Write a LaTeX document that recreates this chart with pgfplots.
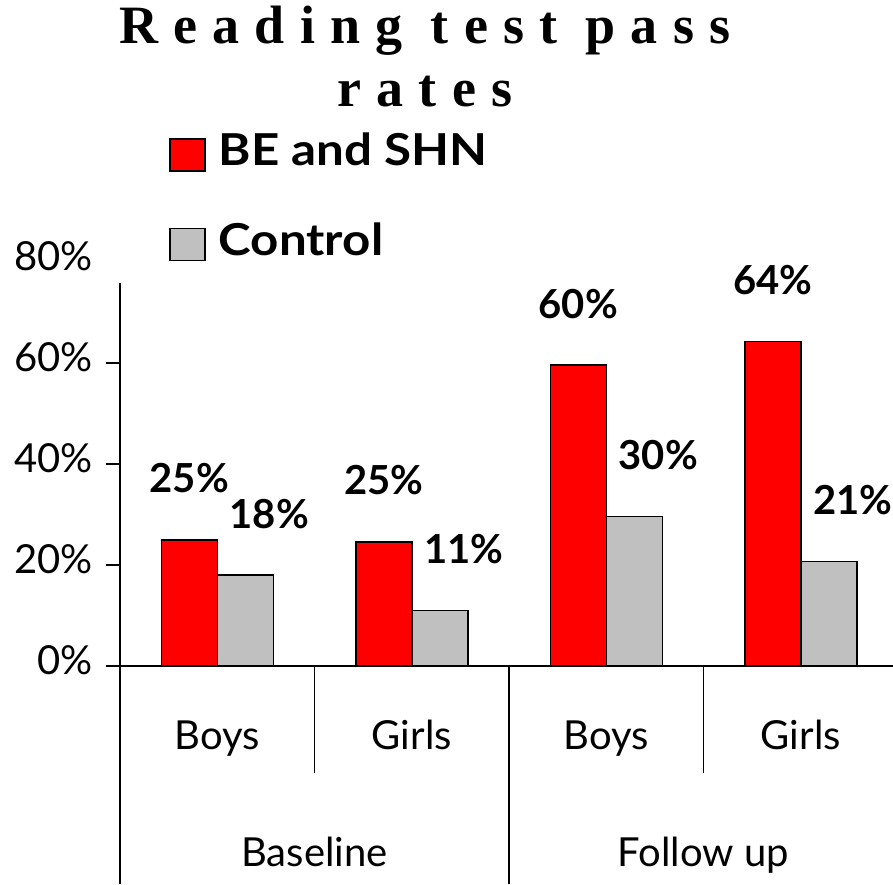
\documentclass[border=0pt]{standalone}
\usepackage{fontspec}
\setmainfont{Lato}
\newfontfamily\titlefont[LetterSpace=28]{Liberation Serif}
\newfontfamily\legendfont[FakeStretch=1.12]{Lato}
\usepackage{pgfplots}
\pgfplotsset{compat=1.18}
\definecolor{barred}{RGB}{255,0,0}
\definecolor{bargray}{RGB}{192,192,192}

\begin{document}
\begin{tikzpicture}
\begin{axis}[
  name=ax,
  scale only axis, width=389pt, height=202pt,
  xmin=0, xmax=4, ymin=0, ymax=80,
  clip=false,
  axis x line*=bottom, axis y line*=left,
  axis line style={line width=0.6pt},
  y axis line style={shorten >=10.5pt},
  /pgf/number format/assume math mode=true,
  ybar=0pt, bar width=28pt,
  xtick={0.5,1.5,2.5,3.5}, xticklabels={Boys,Girls,Boys,Girls},
  extra x ticks={1,3}, extra x tick labels={Baseline,Follow up},
  extra x tick style={xticklabel style={yshift=-58.5pt}},
  xtick style={draw=none},
  xticklabel style={anchor=base, yshift=-34.5pt, font=\fontsize{20pt}{24pt}\selectfont},
  ytick={0,20,40,60},
  extra y ticks={80},
  extra y tick style={ytick style={draw=none}},
  yticklabel={\pgfmathprintnumber{\tick}\%},
  yticklabel style={font=\fontsize{20pt}{24pt}\selectfont, xshift=-3pt, yshift=3pt},
  tick align=outside, major tick length=7pt,
  ytick style={line width=0.6pt, black},
  title={\begin{tabular}[t]{@{}c@{}}Reading test pass\\rates\end{tabular}},
  title style={at={(axis description cs:0.392,1.512)}, anchor=base,
    font=\titlefont\fontsize{27pt}{31.5pt}\selectfont\bfseries},
  legend style={at={(axis description cs:0.055,1.340)}, anchor=north west,
    draw=none, fill=none, font=\legendfont\fontsize{22pt}{26pt}\selectfont\bfseries,
    row sep=23pt},
  legend cell align=left,
  legend image code/.code={\draw[#1, draw=black, line width=0.8pt] (0pt,-10pt) rectangle (17.5pt,6pt); \path (22pt,0pt);},
  nodes near coords={\pgfmathprintnumber[fixed,precision=0]{\pgfplotspointmeta}\%},
  every node near coord/.append style={font=\fontsize{20pt}{24pt}\selectfont\bfseries, anchor=base, yshift=23.5pt, black},
]
\addplot[fill=barred, draw=black, line width=0.75pt] coordinates {(0.5,25) (1.5,24.6) (2.5,59.6) (3.5,64.3)};
\addplot[fill=bargray, draw=black, line width=0.75pt, every node near coord/.append style={xshift=12pt}] coordinates {(0.5,18) (1.5,11) (2.5,29.6) (3.5,20.7)};
\legend{BE and SHN, Control}
\draw[line width=0.6pt] (axis cs:0,0) -- ++(0,-109pt);
\draw[line width=0.6pt] (axis cs:2,0) -- ++(0,-109pt);
\draw[line width=0.6pt] (axis cs:4,0) -- ++(0,-109pt);
\draw[line width=0.6pt] (axis cs:1,0) -- ++(0,-53.5pt);
\draw[line width=0.6pt] (axis cs:3,0) -- ++(0,-53.5pt);
\end{axis}
\pgfresetboundingbox
\useasboundingbox ([shift={(-60pt,-109pt)}]ax.south west) rectangle ([shift={(386.5pt,333pt)}]ax.south west);
\end{tikzpicture}
\end{document}
